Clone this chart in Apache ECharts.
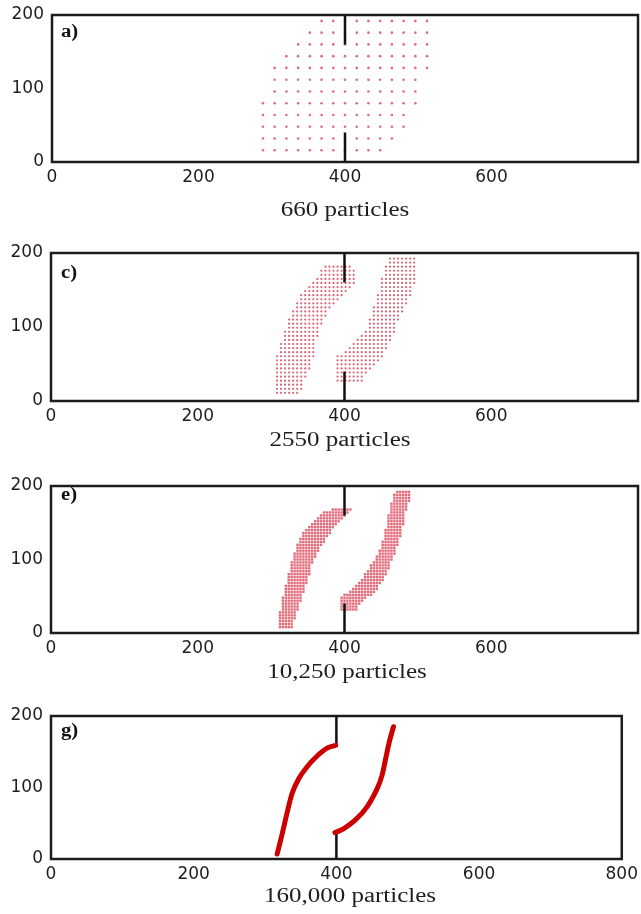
<!DOCTYPE html>
<html><head><meta charset="utf-8">
<script src="https://cdn.jsdelivr.net/npm/echarts@6/dist/echarts.min.js"></script>
<style>html,body{margin:0;padding:0;background:#fff}#c{width:641px;height:914px}</style>
</head><body><div id="c"></div>
<script>
// ---- axes / text ----
const xTicks = [0, 200, 400, 600, 800];
const yTicks = [0, 100, 200];
const panelLabels = ['a)', 'c)', 'e)', 'g)'];
const captions = ['660 particles', '2550 particles', '10,250 particles', '160,000 particles'];

// ---- walls (x = 400) ----
const wallLower = [[400, 0], [400, 40]];
const wallUpper = [[400, 160], [400, 200]];

// ---- panel a: particle lattice rows (spacing 16) ----
const aSpacing = 16;
const aRowY      = [192, 176, 160, 144, 128, 112, 96, 80, 64, 48, 32, 16];
const aRowXStart = [368, 352, 336, 320, 304, 304, 304, 288, 288, 288, 288, 288];
const aRowXEnd   = [512, 512, 512, 512, 512, 496, 496, 496, 480, 480, 464, 448];

// ---- panel c: outlines of the two particle bands (lattice spacing 5.5) ----
const cSpacing = 5.5;
const cLeftOutline = [[305,8],[305,53],[313,76],[320,98],[327,121],[338,139],[350,157],[365,172],[377,186],
                      [404,186],[417,172],[415,157],[395,139],[379,121],[365,98],[361,76],[356,53],[347,30],[338,8]];
const cRightOutline = [[386,24],[386,58],[411,76],[429,98],[438,121],[445,144],[451,166],[456,184],[463,194],
                       [499,194],[499,166],[490,144],[479,121],[470,98],[461,76],[451,58],[433,40],[422,24]];

// ---- panel e: outlines of the two particle bands (lattice spacing 4) ----
const eSpacing = 4;
const eLeftOutline = [[311,5],[311,27],[316,49],[322,72],[327,95],[334,117],[345,140],[359,154],[372,165],[395,172],
                      [409,172],[409,165],[397,154],[384,140],[368,117],[356,95],[350,72],[343,49],[334,27],[329,5]];
const eRightOutline = [[393,30],[393,45],[402,54],[422,72],[438,95],[449,117],[456,140],[460,163],[467,186],[472,196],
                       [490,196],[490,186],[483,163],[479,140],[472,117],[463,95],[454,72],[440,54],[427,45],[415,30]];

// ---- panel g: continuum curves ----
const gLeftCurve  = [[317,7],[324,35],[331,65],[338,92],[347,112],[359,129],[373,144],[387,155],[399,159]];
const gRightCurve = [[398,37],[411,43],[427,55],[443,73],[457,98],[464,117],[469,140],[474,163],[480,185]];

// ---- helpers ----
function insidePoly(x, y, poly) {
  let inside = false;
  for (let i = 0, j = poly.length - 1; i < poly.length; j = i++) {
    const xi = poly[i][0], yi = poly[i][1], xj = poly[j][0], yj = poly[j][1];
    if (((yi > y) !== (yj > y)) && (x < (xj - xi) * (y - yi) / (yj - yi) + xi)) inside = !inside;
  }
  return inside;
}
function latticeIn(poly, s) {
  const pts = [];
  for (let y = s; y < 200; y += s) {
    for (let x = s; x < 800; x += s) {
      if (insidePoly(x, y, poly)) pts.push([x, y]);
    }
  }
  return pts;
}
function rowsLattice(ys, xs, xe, s) {
  const pts = [];
  ys.forEach((y, i) => { for (let x = xs[i]; x <= xe[i]; x += s) pts.push([x, y]); });
  return pts;
}

const panelA = rowsLattice(aRowY, aRowXStart, aRowXEnd, aSpacing);
const panelC = latticeIn(cLeftOutline, cSpacing).concat(latticeIn(cRightOutline, cSpacing));
const panelE = latticeIn(eLeftOutline, eSpacing).concat(latticeIn(eRightOutline, eSpacing));

// ---- layout ----
const grids = [
  { left: 52, top: 15,  width: 588, height: 147 },
  { left: 51, top: 253, width: 589, height: 148 },
  { left: 51, top: 486, width: 589, height: 147 },
  { left: 51, top: 716, width: 573, height: 143 }
].map(g => Object.assign(g, { show: true, borderColor: '#1c1c1c', borderWidth: 2.5, backgroundColor: '#fff', containLabel: false }));

const labelFont = { fontFamily: 'DejaVu Sans', fontSize: 17, color: '#1e1e1e' };
const xAxes = grids.map((g, i) => ({
  gridIndex: i, type: 'value', min: xTicks[0], max: xTicks[xTicks.length - 1], interval: xTicks[1] - xTicks[0],
  axisLine: { show: false }, axisTick: { show: false }, splitLine: { show: false },
  axisLabel: Object.assign({ margin: 7, formatter: v => (i < 3 && v === 800) ? '' : String(v) }, labelFont)
}));
const yAxes = grids.map((g, i) => ({
  gridIndex: i, type: 'value', min: yTicks[0], max: yTicks[yTicks.length - 1], interval: yTicks[1] - yTicks[0],
  axisLine: { show: false }, axisTick: { show: false }, splitLine: { show: false },
  axisLabel: Object.assign({ margin: 8 }, labelFont)
}));

const series = [];
function walls(i) {
  [wallLower, wallUpper].forEach(w => series.push({
    type: 'line', xAxisIndex: i, yAxisIndex: i, data: w, symbol: 'none', silent: true, z: 5,
    lineStyle: { color: '#111', width: 2.5 }
  }));
}
series.push({ type: 'scatter', xAxisIndex: 0, yAxisIndex: 0, data: panelA, symbol: 'circle', symbolSize: 2.6,
  itemStyle: { color: '#d6455c', opacity: 0.8 }, silent: true, z: 2 });
walls(0);
series.push({ type: 'scatter', xAxisIndex: 1, yAxisIndex: 1, data: panelC, symbol: 'circle', symbolSize: 2.2,
  itemStyle: { color: '#d4485c', opacity: 0.85 }, silent: true, z: 2, large: false });
walls(1);
series.push({ type: 'scatter', xAxisIndex: 2, yAxisIndex: 2, data: panelE, symbol: 'rect', symbolSize: 2.4,
  itemStyle: { color: '#de5a6a', opacity: 0.9 }, silent: true, z: 2, large: false });
walls(2);
walls(3);
[gLeftCurve, gRightCurve].forEach(c => series.push({
  type: 'line', xAxisIndex: 3, yAxisIndex: 3, data: c, smooth: 0.3, symbol: 'none', silent: true, z: 6,
  lineStyle: { color: '#cc0000', width: 5, cap: 'round' }
}));

const capPos = [[345, 211], [340, 441], [347, 673], [350, 897]];
const labPos = [[61, 32], [61, 273], [61, 495], [61, 731]];
const graphics = [];
captions.forEach((t, i) => graphics.push({
  type: 'text', x: capPos[i][0], y: capPos[i][1], scaleX: 1.25, silent: true, z: 100,
  style: { text: t, font: '20px "Liberation Serif"', fill: '#1e1e1e', textAlign: 'center', textVerticalAlign: 'middle' }
}));
panelLabels.forEach((t, i) => graphics.push({
  type: 'text', x: labPos[i][0], y: labPos[i][1], scaleX: 1.15, silent: true, z: 100,
  style: { text: t, font: 'bold 18px "Liberation Serif"', fill: '#111', textAlign: 'left', textVerticalAlign: 'middle' }
}));

const chart = echarts.init(document.getElementById('c'), null, { renderer: 'canvas' });
chart.setOption({
  animation: false,
  backgroundColor: '#fff',
  grid: grids, xAxis: xAxes, yAxis: yAxes, series: series, graphic: graphics
});
</script></body></html>
